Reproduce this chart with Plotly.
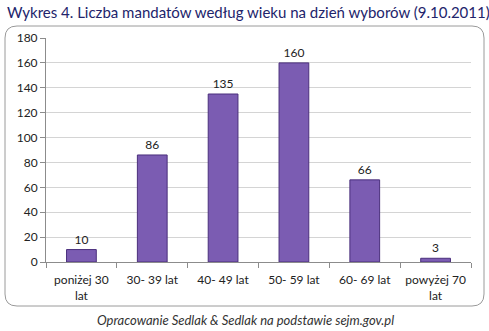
import plotly.graph_objects as go

# Mandates by age group, Sejm elections of 9.10.2011
categories = ["poniżej 30<br>lat", "30- 39 lat", "40- 49 lat", "50- 59 lat", "60- 69 lat", "powyżej 70<br>lat"]
mandates = [10, 86, 135, 160, 66, 3]
y_ticks = [0, 20, 40, 60, 80, 100, 120, 140, 160, 180]

W, H = 489, 331
ML, MR, MT, MB = 46, 18, 38, 69
PW, PH = W - ML - MR, H - MT - MB

FONT = "Lato, 'Open Sans', sans-serif"


def px_x(x):
    return (x - ML) / PW


def px_y(y):
    return (H - MB - y) / PH


def rounded_rect(x0, y0, x1, y1, r):
    # pixel rectangle with rounded corners, expressed in paper coordinates
    pts = [
        f"M {px_x(x0 + r)},{px_y(y0)}",
        f"L {px_x(x1 - r)},{px_y(y0)}",
        f"Q {px_x(x1)},{px_y(y0)} {px_x(x1)},{px_y(y0 + r)}",
        f"L {px_x(x1)},{px_y(y1 - r)}",
        f"Q {px_x(x1)},{px_y(y1)} {px_x(x1 - r)},{px_y(y1)}",
        f"L {px_x(x0 + r)},{px_y(y1)}",
        f"Q {px_x(x0)},{px_y(y1)} {px_x(x0)},{px_y(y1 - r)}",
        f"L {px_x(x0)},{px_y(y0 + r)}",
        f"Q {px_x(x0)},{px_y(y0)} {px_x(x0 + r)},{px_y(y0)}",
        "Z",
    ]
    return " ".join(pts)


fig = go.Figure(
    go.Bar(
        x=categories,
        y=mandates,
        text=mandates,
        textposition="outside",
        textfont=dict(family=FONT, size=12, color="#222222"),
        cliponaxis=False,
        marker=dict(color="#7b5cb2", line=dict(color="#4a2f7c", width=1)),
        width=0.42,
    )
)

fig.update_layout(
    width=W,
    height=H,
    margin=dict(l=ML, r=MR, t=MT, b=MB),
    paper_bgcolor="white",
    plot_bgcolor="white",
    showlegend=False,
    font=dict(family=FONT, size=12, color="#222222"),
    xaxis=dict(
        type="category",
        showline=True,
        linecolor="#8c8c8c",
        linewidth=1,
        ticks="outside",
        tickson="boundaries",
        ticklen=5,
        tickcolor="#8c8c8c",
        ticklabelstandoff=7,
        showgrid=False,
        tickfont=dict(family=FONT, size=12, color="#222222"),
    ),
    yaxis=dict(
        range=[0, 180],
        tickvals=y_ticks,
        showline=True,
        linecolor="#8c8c8c",
        linewidth=1,
        ticks="outside",
        ticklen=5,
        tickcolor="#8c8c8c",
        showgrid=True,
        gridcolor="#d4d4d4",
        gridwidth=1,
        zeroline=False,
        tickfont=dict(family=FONT, size=12, color="#222222"),
    ),
    shapes=[
        dict(
            type="path",
            xref="paper",
            yref="paper",
            path=rounded_rect(5, 26, 484, 306, 12),
            line=dict(color="#9a9a9a", width=1),
            fillcolor="rgba(0,0,0,0)",
            layer="below",
        )
    ],
    annotations=[
        dict(
            text="Wykres 4. Liczba mandatów według wieku na dzień wyborów (9.10.2011)",
            xref="paper",
            yref="paper",
            x=px_x(5),
            y=px_y(12),
            xanchor="left",
            yanchor="middle",
            showarrow=False,
            font=dict(family=FONT, size=15, color="#22246b"),
        ),
        dict(
            text="<i>Opracowanie Sedlak &amp; Sedlak na podstawie sejm.gov.pl</i>",
            xref="paper",
            yref="paper",
            x=px_x(245),
            y=px_y(320),
            xanchor="center",
            yanchor="middle",
            showarrow=False,
            font=dict(family=FONT, size=13, color="#333333"),
        ),
    ],
)

fig.write_html("out.html")
